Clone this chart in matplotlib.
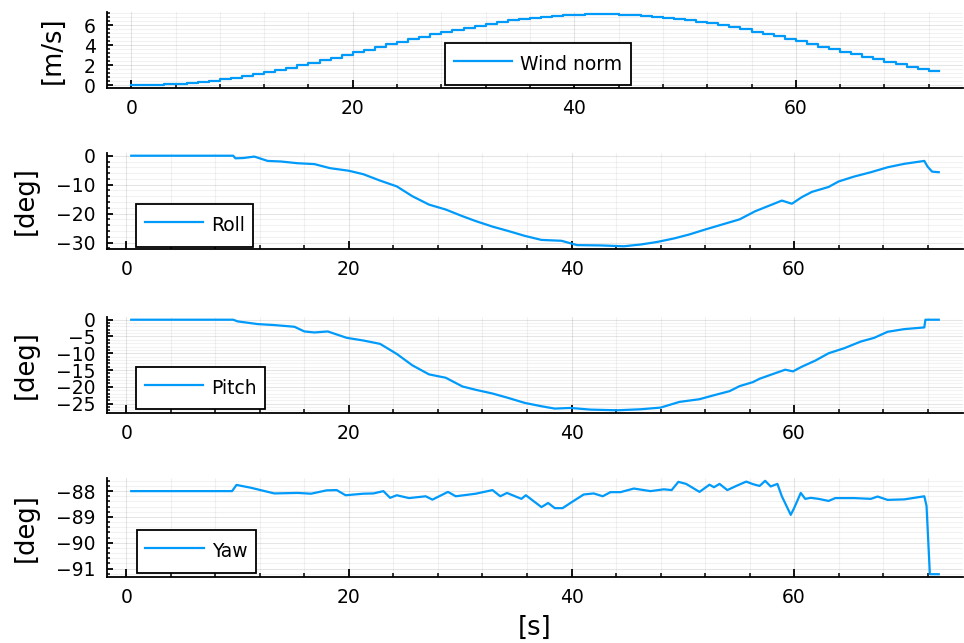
import numpy as np
import matplotlib
matplotlib.use('Agg')
import matplotlib.pyplot as plt
from matplotlib.ticker import MultipleLocator, AutoMinorLocator

# wind norm, held constant over each 1 s step
wind_norm = [0.00, 0.01, 0.04, 0.09, 0.16, 0.25, 0.35, 0.48, 0.62, 0.77,
             0.95, 1.14, 1.34, 1.55, 1.78, 2.01, 2.25, 2.50, 2.76, 3.02,
             3.29, 3.55, 3.82, 4.08, 4.34, 4.60, 4.85, 5.09, 5.33, 5.55,
             5.76, 5.96, 6.15, 6.33, 6.48, 6.62, 6.75, 6.85, 6.94, 7.01,
             7.06, 7.09, 7.10, 7.09, 7.06, 7.01, 6.94, 6.86, 6.76, 6.64,
             6.50, 6.34, 6.17, 5.99, 5.79, 5.58, 5.36, 5.13, 4.89, 4.64,
             4.39, 4.13, 3.87, 3.61, 3.35, 3.09, 2.83, 2.58, 2.34, 2.10,
             1.87, 1.65, 1.45]
wind_t_end = 72.9

roll_t = [0.44, 9.6, 9.8, 10.5, 11.5, 12.7, 13.9, 15.4, 16.9, 18.3, 20.0,
          21.3, 22.8, 24.3, 25.7, 27.2, 28.7, 30.2, 31.4, 32.9, 34.3, 35.8,
          37.3, 39.1, 40.5, 42.6, 44.7, 46.2, 47.7, 49.2, 50.6, 52.1, 53.6,
          55.1, 56.5, 58.0, 58.9, 59.8, 60.7, 61.6, 63.1, 64.0, 65.4, 66.9,
          68.4, 69.9, 71.7, 72.0, 72.4, 73.0]
roll = [0.0, 0.0, -0.9, -0.8, -0.3, -1.8, -2.0, -2.6, -2.9, -4.3, -5.2,
        -6.4, -8.6, -10.6, -14.0, -16.9, -18.6, -20.9, -22.6, -24.5, -26.0, -27.7,
        -29.1, -29.4, -30.9, -31.0, -31.3, -30.7, -29.8, -28.6, -27.2, -25.4, -23.7,
        -22.0, -19.2, -16.9, -15.5, -16.6, -14.3, -12.5, -10.8, -8.9, -7.2, -5.7,
        -4.0, -2.8, -1.8, -3.8, -5.5, -5.7]

pitch_t = [0.44, 9.6, 10.0, 11.8, 13.3, 15.1, 16.0, 16.9, 18.1, 19.8, 21.3,
           22.8, 24.3, 25.7, 27.2, 28.7, 30.2, 31.4, 32.9, 34.3, 35.8, 37.3,
           38.5, 39.9, 41.7, 44.1, 46.2, 48.0, 49.7, 51.5, 52.7, 54.2, 55.1,
           56.3, 56.9, 58.0, 59.2, 59.9, 60.7, 61.9, 63.1, 64.5, 66.0, 67.2,
           68.4, 69.9, 71.7, 71.8, 73.0]
pitch = [0.0, 0.0, -0.5, -1.3, -1.6, -2.1, -3.5, -3.8, -3.5, -5.4, -6.2,
         -7.2, -10.2, -13.6, -16.3, -17.3, -19.9, -20.9, -22.0, -23.3, -24.8, -25.8,
         -26.5, -26.3, -26.8, -27.0, -26.7, -26.2, -24.5, -23.7, -22.6, -21.3, -19.8,
         -18.6, -17.6, -16.3, -14.9, -15.4, -14.0, -12.2, -10.0, -8.5, -6.5, -5.4,
         -3.6, -2.8, -2.3, 0.0, 0.0]

yaw_t = [0.44, 9.5, 9.9, 11.2, 13.3, 15.4, 16.6, 18.0, 18.9, 19.7, 21.3,
         22.2, 23.1, 23.7, 24.3, 25.4, 26.9, 27.5, 28.9, 29.6, 31.4, 32.9,
         33.6, 34.2, 35.5, 35.9, 37.3, 37.9, 38.5, 39.2, 39.9, 41.1, 42.0,
         42.8, 43.5, 44.4, 45.6, 47.1, 48.3, 49.0, 49.6, 50.3, 51.5, 52.4,
         52.8, 53.3, 54.0, 54.8, 55.7, 56.3, 56.9, 57.4, 57.9, 58.5, 58.9,
         59.7, 60.0, 60.6, 61.0, 61.5, 62.2, 63.1, 63.7, 65.4, 66.9, 67.5,
         68.4, 69.9, 71.7, 71.9, 72.2, 73.0]
yaw = [-88.0, -88.0, -87.76, -87.87, -88.09, -88.07, -88.10, -87.97, -87.96, -88.16, -88.10,
       -88.09, -88.00, -88.26, -88.16, -88.27, -88.20, -88.33, -88.03, -88.20, -88.10, -87.96,
       -88.20, -88.07, -88.30, -88.16, -88.62, -88.46, -88.66, -88.66, -88.46, -88.13, -88.09,
       -88.20, -88.04, -88.04, -87.90, -88.00, -87.93, -87.96, -87.64, -87.72, -88.03, -87.75,
       -87.85, -87.72, -87.96, -87.80, -87.63, -87.73, -87.80, -87.60, -87.82, -87.72, -88.20,
       -88.92, -88.66, -88.07, -88.30, -88.26, -88.30, -88.38, -88.27, -88.27, -88.30, -88.21,
       -88.34, -88.32, -88.20, -88.57, -91.22, -91.22]

blue = '#009AFA'
W, H = 964, 643

fig = plt.figure(figsize=(W / 100, H / 100), dpi=100)

# axes boxes in pixels: top, bottom
boxes = [(12, 87.5), (153, 249), (317, 413), (478, 577)]
axes = []
for top, bot in boxes:
    ax = fig.add_axes([107 / W, 1 - bot / H, 856 / W, (bot - top) / H])
    axes.append(ax)

wind_t = list(range(len(wind_norm))) + [wind_t_end]
axes[0].step(wind_t, wind_norm + [wind_norm[-1]], where='post', color=blue, lw=1.6, label='Wind norm')
axes[1].plot(roll_t, roll, color=blue, lw=1.6, label='Roll')
axes[2].plot(pitch_t, pitch, color=blue, lw=1.6, label='Pitch')
axes[3].plot(yaw_t, yaw, color=blue, lw=1.6, label='Yaw')

ylabels = ['[m/s]', '[deg]', '[deg]', '[deg]']
ysteps = [2, 10, 5, 1]
leg_anchor = [(0.395, 0.027), (0.034, 0.024), (0.034, 0.038), (0.035, 0.043)]

for ax, lab, ys, anc in zip(axes, ylabels, ysteps, leg_anchor):
    ax.margins(x=0.03, y=0.03)
    for s in ['top', 'right']:
        ax.spines[s].set_visible(False)
    for s in ['left', 'bottom']:
        ax.spines[s].set_linewidth(1.3)
    ax.xaxis.set_major_locator(MultipleLocator(20))
    ax.xaxis.set_minor_locator(AutoMinorLocator(5))
    ax.yaxis.set_major_locator(MultipleLocator(ys))
    ax.yaxis.set_minor_locator(AutoMinorLocator(5))
    ax.grid(True, which='major', color='black', alpha=0.1, lw=0.8)
    ax.grid(True, which='minor', color='black', alpha=0.05, lw=0.8)
    ax.tick_params(axis='x', which='major', direction='in', length=6, width=1.3, labelsize=13.5, pad=8)
    ax.tick_params(axis='x', which='minor', direction='in', length=3, width=1.1)
    ax.tick_params(axis='y', which='major', direction='in', length=4, width=1.3, labelsize=13.5, pad=8)
    ax.tick_params(axis='y', which='minor', direction='in', length=2.2, width=1.1)
    ax.set_ylabel(lab, fontsize=18.5, labelpad=13)
    ax.legend(loc='lower left', bbox_to_anchor=anc, borderaxespad=0, fontsize=13.5,
              fancybox=False, framealpha=1, edgecolor='black', handlelength=3.1,
              handleheight=1.75, handletextpad=0.45, borderpad=0.45).get_frame().set_linewidth(1.3)

axes[3].set_xlabel('[s]', fontsize=18.5, labelpad=6)

fig.savefig('out.png', dpi=100)
